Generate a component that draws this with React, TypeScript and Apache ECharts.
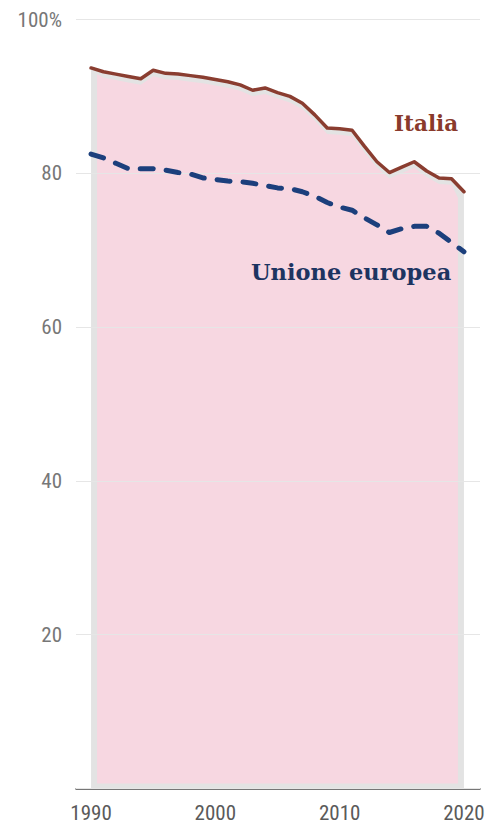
import React, { useEffect, useRef } from "react";
import * as echarts from "echarts";

// Share (%) by year, 1990–2020
const years: number[] = [
  1990, 1991, 1992, 1993, 1994, 1995, 1996, 1997, 1998, 1999, 2000,
  2001, 2002, 2003, 2004, 2005, 2006, 2007, 2008, 2009, 2010,
  2011, 2012, 2013, 2014, 2015, 2016, 2017, 2018, 2019, 2020,
];
const italia: number[] = [
  93.7, 93.2, 92.9, 92.6, 92.3, 93.4, 93.0, 92.9, 92.7, 92.5, 92.2,
  91.9, 91.5, 90.8, 91.1, 90.5, 90.0, 89.1, 87.6, 85.9, 85.8,
  85.6, 83.5, 81.5, 80.1, 80.8, 81.5, 80.3, 79.4, 79.3, 77.6,
];
const unioneEuropea: number[] = [
  82.5, 82.0, 81.3, 80.6, 80.6, 80.6, 80.4, 80.1, 79.9, 79.4, 79.2,
  79.0, 78.9, 78.7, 78.4, 78.1, 78.0, 77.6, 77.0, 76.2, 75.6,
  75.2, 74.2, 73.3, 72.3, 72.8, 73.1, 73.1, 72.2, 71.0, 69.8,
];
const xTicks: number[] = [1990, 2000, 2010, 2020];
const seriesNames: string[] = ["Italia", "Unione europea"];

const TICK_FONT = "'Liberation Sans Narrow', 'Roboto Condensed', 'DejaVu Sans Condensed', sans-serif";
const LABEL_FONT = "'DejaVu Serif', serif";

export default function App() {
  const ref = useRef<HTMLDivElement>(null);

  useEffect(() => {
    if (!ref.current) return;
    const chart = echarts.init(ref.current, null, { renderer: "svg" });

    const italiaPts = years.map((y, i) => [y, italia[i]]);
    const euPts = years.map((y, i) => [y, unioneEuropea[i]]);

    chart.setOption({
      animation: false,
      backgroundColor: "#ffffff",
      grid: { left: 76, right: 9, top: 19.5, bottom: 35.5, containLabel: false },
      xAxis: {
        type: "value",
        min: 1988.79,
        max: 2021.29,
        axisLine: { show: true, lineStyle: { color: "#4a4a4a", width: 1.5 } },
        axisTick: { show: false },
        splitLine: { show: false },
        axisLabel: {
          customValues: xTicks,
          color: "#5a5a5a",
          fontFamily: TICK_FONT,
          fontSize: 21,
          margin: 14,
          formatter: (v: number) => String(v),
        },
      },
      yAxis: {
        type: "value",
        min: 0,
        max: 100,
        interval: 20,
        z: 5,
        axisLine: { show: false },
        axisTick: { show: false },
        splitLine: { show: true, lineStyle: { color: "#e6e6e6", width: 1.2 } },
        axisLabel: {
          color: "#777777",
          fontFamily: TICK_FONT,
          fontSize: 21,
          margin: 14,
          formatter: (v: number) => (v === 0 ? "" : v === 100 ? "100%" : String(v)),
        },
      },
      series: [
        {
          // Shaded area under the Italia curve: grey rim with pink fill
          type: "custom",
          z: 1,
          silent: true,
          data: italiaPts,
          encode: { x: 0, y: 1 },
          renderItem: (params: any, api: any) => {
            if (params.dataIndex !== 0) return null;
            const top = years.map((y, i) => api.coord([y, italia[i]]));
            const b0 = api.coord([years[0], 0]);
            const b1 = api.coord([years[years.length - 1], 0]);
            const inset = 6;
            const last = top.length - 1;
            const pinkTop = top.map((p: number[], i: number) => [
              i === 0 ? p[0] + inset : i === last ? p[0] - inset : p[0],
              p[1] + inset,
            ]);
            return {
              type: "group",
              children: [
                {
                  type: "polygon",
                  shape: { points: [...top, b1, b0] },
                  style: { fill: "#e3e3e3" },
                },
                {
                  type: "polygon",
                  shape: {
                    points: [
                      ...pinkTop,
                      [b1[0] - inset, b1[1] - 5],
                      [b0[0] + inset, b0[1] - 5],
                    ],
                  },
                  style: { fill: "#f7d7e1" },
                },
              ],
            };
          },
        },
        {
          name: seriesNames[0],
          type: "line",
          z: 10,
          data: italiaPts,
          symbol: "none",
          lineStyle: { color: "#8a3d30", width: 3.5, cap: "round", join: "round" },
        },
        {
          name: seriesNames[1],
          type: "line",
          z: 10,
          data: euPts,
          symbol: "none",
          lineStyle: { color: "#1c3f7c", width: 5, type: [13, 13], cap: "round", join: "round" },
        },
      ],
      graphic: [
        {
          type: "text",
          left: 394,
          top: 112,
          z: 20,
          style: {
            text: seriesNames[0],
            font: `bold 21.5px ${LABEL_FONT}`,
            fill: "#8a3a2c",
          },
        },
        {
          type: "text",
          left: 251,
          top: 260,
          z: 20,
          style: {
            text: seriesNames[1],
            font: `bold 22.5px ${LABEL_FONT}`,
            fill: "#1d3461",
          },
        },
      ],
    });

    return () => chart.dispose();
  }, []);

  return (
    <div
      ref={ref}
      style={{ position: "fixed", left: 0, top: 0, width: 489, height: 824 }}
    />
  );
}
